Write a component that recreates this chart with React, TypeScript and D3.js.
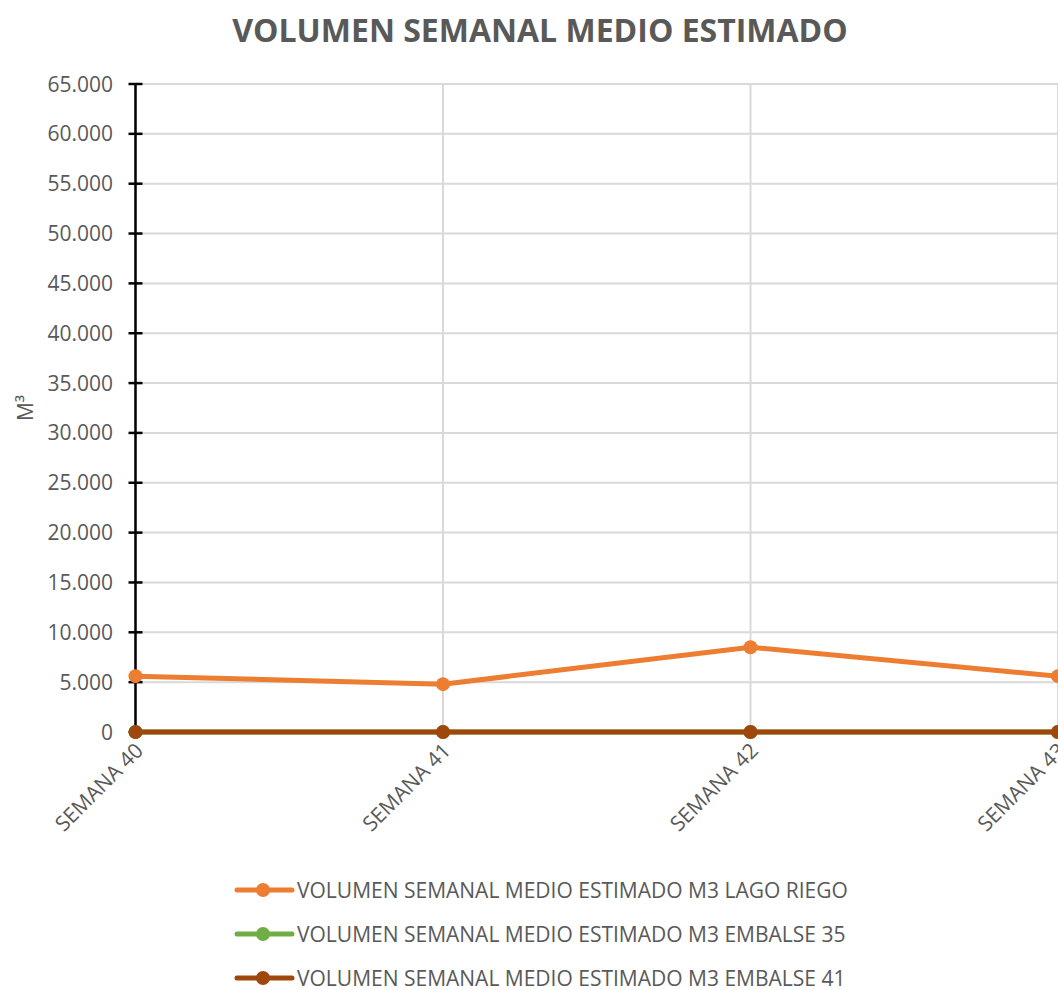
import React, { useEffect, useRef } from "react";
import * as d3 from "d3";

const categories = ["SEMANA 40", "SEMANA 41", "SEMANA 42", "SEMANA 43"];
const lagoRiego = [5600, 4800, 8500, 5600];
const embalse35 = [0, 0, 0, 0];
const embalse41 = [0, 0, 0, 0];
const seriesNames = [
  "VOLUMEN SEMANAL MEDIO ESTIMADO M3 LAGO RIEGO",
  "VOLUMEN SEMANAL MEDIO ESTIMADO M3 EMBALSE 35",
  "VOLUMEN SEMANAL MEDIO ESTIMADO M3 EMBALSE 41",
];
const seriesColors = ["#ED7D31", "#70AD47", "#9E480E"];
const yTicks = d3.range(0, 65001, 5000);

const W = 1058, H = 990;
const FONT = "'Open Sans', sans-serif";

export default function App() {
  const ref = useRef<SVGSVGElement>(null);
  useEffect(() => {
    const svg = d3.select(ref.current);
    svg.selectAll("*").remove();
    const x0 = 135.5, x1 = 1058, yTop = 84, yBot = 732;
    const x = d3.scalePoint<string>().domain(categories).range([x0, x1]);
    const y = d3.scaleLinear().domain([0, 65000]).range([yBot, yTop]);

    svg.append("text").attr("x", 540).attr("y", 42).attr("text-anchor", "middle")
      .attr("font-family", FONT).attr("font-weight", "bold").attr("font-size", 32)
      .attr("fill", "#595959").text("VOLUMEN SEMANAL MEDIO ESTIMADO");

    const g = svg.append("g");
    g.selectAll("line.h").data(yTicks).enter().append("line")
      .attr("x1", x0).attr("x2", W).attr("y1", d => y(d)).attr("y2", d => y(d))
      .attr("stroke", "#d9d9d9").attr("stroke-width", 2);
    g.selectAll("line.v").data(categories).enter().append("line")
      .attr("x1", d => x(d)!).attr("x2", d => x(d)!).attr("y1", yTop).attr("y2", yBot)
      .attr("stroke", "#d9d9d9").attr("stroke-width", 2);

    g.append("line").attr("x1", x0).attr("x2", x0).attr("y1", yTop).attr("y2", yBot)
      .attr("stroke", "#000").attr("stroke-width", 2.5);
    g.selectAll("line.t").data(yTicks).enter().append("line")
      .attr("x1", x0 - 7).attr("x2", x0 + 7).attr("y1", d => y(d)).attr("y2", d => y(d))
      .attr("stroke", "#000").attr("stroke-width", 2.5);
    g.selectAll("text.yt").data(yTicks).enter().append("text")
      .attr("x", 113).attr("y", d => y(d) + 7.5).attr("text-anchor", "end")
      .attr("font-family", FONT).attr("font-size", 21).attr("fill", "#595959")
      .text(d => d === 0 ? "0" : d3.format(",")(d).replace(/,/g, "."));

    svg.append("text").attr("transform", "translate(33,408) rotate(-90)")
      .attr("text-anchor", "middle").attr("font-family", FONT).attr("font-size", 21)
      .attr("fill", "#595959").text("M³");

    g.selectAll("text.xt").data(categories).enter().append("text")
      .attr("transform", d => `translate(${x(d)! + 9},${yBot + 20}) rotate(-45)`)
      .attr("text-anchor", "end").attr("font-family", FONT).attr("font-size", 21)
      .attr("fill", "#595959").text(d => d);

    const all = [lagoRiego, embalse35, embalse41];
    const line = d3.line<number>().x((_, i) => x(categories[i])!).y(d => y(d));
    all.forEach((s, k) => {
      g.append("path").attr("d", line(s)!).attr("fill", "none")
        .attr("stroke", seriesColors[k]).attr("stroke-width", 5).attr("stroke-linejoin", "round");
      g.selectAll(`circle.s${k}`).data(s).enter().append("circle")
        .attr("cx", (_, i) => x(categories[i])!).attr("cy", d => y(d)).attr("r", 7)
        .attr("fill", seriesColors[k]);
    });

    const lg = svg.append("g");
    seriesNames.forEach((n, k) => {
      const yy = 890 + k * 44;
      lg.append("line").attr("x1", 237).attr("x2", 292).attr("y1", yy).attr("y2", yy)
        .attr("stroke", seriesColors[k]).attr("stroke-width", 5).attr("stroke-linecap", "round");
      lg.append("circle").attr("cx", 263).attr("cy", yy).attr("r", 7).attr("fill", seriesColors[k]);
      lg.append("text").attr("x", 297).attr("y", yy + 8).attr("font-family", FONT)
        .attr("font-size", 21).attr("fill", "#595959").text(n);
    });
  }, []);
  return (
    <svg ref={ref} width={W} height={H}
      style={{ position: "absolute", left: 0, top: 0, background: "#fff" }} />
  );
}
